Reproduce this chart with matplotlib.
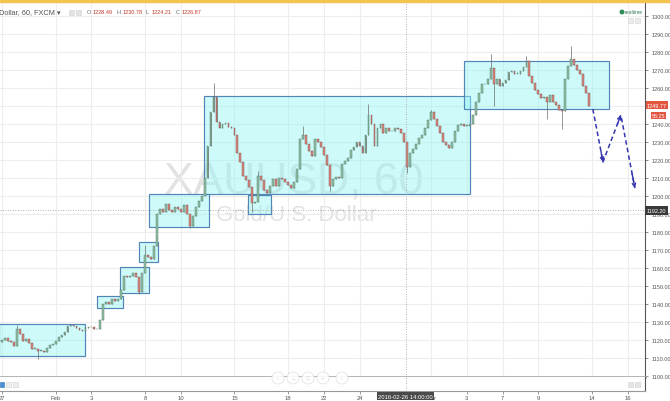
import numpy as np
import matplotlib.pyplot as plt
from matplotlib.patches import Rectangle, Ellipse
from matplotlib.transforms import blended_transform_factory

plt.rcParams['font.family'] = ['Liberation Sans', 'DejaVu Sans']

W, H = 670, 402

# 4-hour closes (6 bars per trading day, from Jan 27)
closes = [
    1120.0, 1121.0, 1119.5, 1119.0, 1116.5, 1126.0, 1123.3, 1119.5, 1120.5, 1118.5,
    1115.0, 1115.0, 1114.0, 1114.0, 1113.5, 1115.5, 1117.0, 1118.0, 1119.5, 1121.5,
    1122.6, 1124.4, 1127.8, 1128.5, 1127.5, 1126.5, 1125.5, 1125.2, 1126.5, 1127.0,
    1127.0, 1126.0, 1126.0, 1131.0, 1140.0, 1141.0, 1140.0, 1142.8, 1141.5, 1142.5,
    1148.0, 1155.6, 1155.0, 1155.5, 1157.0, 1155.0, 1146.7, 1157.0, 1167.0, 1166.0,
    1165.0, 1172.0, 1190.0, 1193.0, 1191.0, 1195.5, 1192.0, 1191.0, 1194.0, 1192.5,
    1191.0, 1195.0, 1190.0, 1183.5, 1189.0, 1194.0, 1197.0, 1200.0, 1210.0, 1228.0,
    1246.7, 1255.0, 1241.0, 1238.0, 1240.0, 1240.5, 1238.5, 1237.5, 1234.0, 1224.0,
    1219.0, 1211.0, 1209.0, 1205.0, 1196.0, 1196.7, 1211.0, 1209.0, 1203.5, 1201.5,
    1205.6, 1209.4, 1205.6, 1210.0, 1209.5, 1207.5, 1206.0, 1204.5, 1208.0, 1215.0,
    1231.7, 1234.0, 1229.0, 1225.0, 1222.0, 1231.7, 1230.0, 1227.0, 1223.0, 1217.0,
    1205.6, 1209.4, 1210.5, 1210.0, 1218.0, 1219.5, 1221.0, 1225.3, 1227.0, 1230.0,
    1228.0, 1224.0, 1234.0, 1245.0, 1240.0, 1228.0, 1238.0, 1240.0, 1235.0, 1238.0,
    1236.0, 1236.0, 1238.0, 1237.0, 1235.0, 1230.0, 1216.0, 1224.0, 1226.0, 1229.0,
    1232.0, 1234.0, 1237.5, 1242.0, 1246.5, 1243.0, 1239.0, 1235.0, 1230.0, 1228.5,
    1226.5, 1230.0, 1236.0, 1239.5, 1240.0, 1239.0, 1239.0, 1240.0, 1245.0, 1252.0,
    1257.5, 1262.0, 1262.0, 1265.0, 1271.0, 1262.0, 1265.0, 1261.0, 1263.0, 1264.5,
    1269.0, 1269.5, 1268.0, 1268.0, 1269.5, 1271.5, 1275.0, 1266.7, 1263.0, 1259.0,
    1256.5, 1254.5, 1255.0, 1252.0, 1256.0, 1252.0, 1250.5, 1248.0, 1247.5, 1265.0,
    1272.0, 1276.0, 1273.0, 1270.0, 1268.0, 1261.0, 1257.5, 1249.8,
]
first_open = 1119.0

# wick extremes that stick out of the bodies
spike_idx = [5, 48, 71, 86, 101, 123, 144, 164, 176, 191]
spike_hi = [1128.5, 1173.0, 1263.0, 1214.0, 1239.0, 1251.0, 1248.0, 1279.0, 1278.0, 1283.5]
dip_idx = [12, 46, 63, 84, 110, 136, 165, 183, 188]
dip_lo = [1109.5, 1145.5, 1182.0, 1191.0, 1202.8, 1213.0, 1250.0, 1243.0, 1237.0]

bars_per_day = 6
day_ticks = [0, 3, 5, 8, 10, 13, 16, 18, 20, 24, 26, 28, 30, 33, 35]
day_labels = ['27', 'Feb', '3', '8', '10', '15', '18', '22', '24', 'Mar', '3', '7', '9', '14', '16']

# drawn rectangles (bar index, price)
box_x0 = [-1.0, 31.9, 39.6, 46.0, 49.3, 67.8, 82.6, 155.0]
box_x1 = [27.9, 40.6, 49.3, 52.3, 69.5, 157.0, 90.3, 203.7]
box_lo = [1111.1, 1137.8, 1146.1, 1163.3, 1182.8, 1201.1, 1190.0, 1248.3]
box_hi = [1128.9, 1144.4, 1160.6, 1174.4, 1201.1, 1255.6, 1200.6, 1275.0]

# projected path
proj_x = [198.3, 201.7, 207.7, 212.4]
proj_y = [1248.3, 1218.9, 1245.0, 1204.4]

price_ticks = list(range(1100, 1301, 10))
last_price = 1249.77
cross_price = 1192.20
cross_day = 22 + 14 / 24
cross_label = '2016-02-26 14:00:00'
ohlc_names = ['O', 'H', 'L', 'C']
ohlc_vals = ['1228.49', '1230.78', '1224.21', '1226.87']


def fx(x):
    return x / W


def fy(y):
    return 1 - y / H


fig = plt.figure(figsize=(W / 100, H / 100), dpi=100)
fig.patch.set_facecolor('white')

ax = fig.add_axes([0, fy(378), 645 / W, 375 / H])
xlim = (-0.67, 215.8)
ax.set_xlim(*xlim)
ax.set_ylim(1099.44, 1307.78)

tick_x = [d * bars_per_day for d in day_ticks]
ax.set_xticks(tick_x)
ax.set_yticks(price_ticks)
ax.grid(color='#ededed', lw=0.8, zorder=0)
ax.set_axisbelow(True)
ax.yaxis.tick_right()
ax.tick_params(axis='x', length=0, labelbottom=False)
ax.tick_params(axis='y', length=2.5, width=0.6, color='#777', labelsize=4,
               labelcolor='#555', pad=2)
# the scale label under the last-price marker is hidden, as on the screen
ax.set_yticklabels(['' if abs(p - last_price) < 3 else '%.2f' % p for p in price_ticks])
for s in ['left', 'top']:
    ax.spines[s].set_visible(False)
ax.spines['right'].set_color('#555')
ax.spines['right'].set_linewidth(0.8)
ax.spines['bottom'].set_color('#b0b0b0')
ax.spines['bottom'].set_linewidth(2)

# watermark
ax.text(0.455, 0.493, 'XAUUSD, 60', transform=ax.transAxes, ha='center',
        va='baseline', fontsize=32, color='#e2e2e2', zorder=0.5)
ax.text(0.46, 0.418, 'Gold/U.S. Dollar', transform=ax.transAxes, ha='center',
        va='baseline', fontsize=16, color='#e2e2e2', zorder=0.5)

# boxes
for x0, x1, lo, hi in zip(box_x0, box_x1, box_lo, box_hi):
    ax.add_patch(Rectangle((x0, lo), x1 - x0, hi - lo, fc=(0.58, 0.96, 0.96, 0.45),
                           ec='#5085b8', lw=0.85, zorder=1))

# candles
c = np.array(closes)
o = np.concatenate([[first_open], c[:-1]])
idx = np.arange(len(c))
hi = np.maximum(o, c)
lo = np.minimum(o, c)
hi[spike_idx] = spike_hi
lo[dip_idx] = dip_lo
up = c >= o
ax.vlines(idx, lo, hi, color='#6d6d6d', lw=0.5, zorder=2)
body_lo = np.minimum(o, c)
body_h = np.maximum(np.abs(c - o), 0.3)
ax.bar(idx[up], body_h[up], bottom=body_lo[up], width=0.6, color='#8fc2a6',
       edgecolor='#4f6f5c', lw=0.3, zorder=3)
ax.bar(idx[~up], body_h[~up], bottom=body_lo[~up], width=0.6, color='#d98b80',
       edgecolor='#7a4a44', lw=0.3, zorder=3)

# crosshair
cross_x = cross_day * bars_per_day
ax.axvline(cross_x, color='#999', lw=0.6, ls=(0, (1, 2)), zorder=4)
ax.axhline(cross_price, color='#999', lw=0.6, ls=(0, (1, 2)), zorder=4)

# projection
ax.plot(proj_x, proj_y, color='#3535b0', lw=1.1, ls=(0, (3, 2)), zorder=5)
for k in range(1, len(proj_x)):
    sx = proj_x[k - 1] + 0.8 * (proj_x[k] - proj_x[k - 1])
    sy = proj_y[k - 1] + 0.8 * (proj_y[k] - proj_y[k - 1])
    ax.annotate('', xy=(proj_x[k], proj_y[k]), xytext=(sx, sy),
                arrowprops=dict(arrowstyle='->', color='#3535b0', lw=1.0,
                                shrinkA=0, shrinkB=0, mutation_scale=6), zorder=5)

# time axis strip
ax2 = fig.add_axes([0, fy(392), 645 / W, 14 / H])
ax2.set_xlim(*xlim)
ax2.set_ylim(0, 1)
ax2.set_yticks([])
ax2.set_xticks(tick_x)
ax2.set_xticklabels(day_labels)
ax2.tick_params(axis='x', length=2, width=0.6, color='#888', labelsize=4.2,
                labelcolor='#555', pad=1.2)
for s in ['left', 'top']:
    ax2.spines[s].set_visible(False)
ax2.spines['bottom'].set_color('#999')
ax2.spines['bottom'].set_linewidth(0.8)
ax2.spines['right'].set_color('#555')
ax2.spines['right'].set_linewidth(0.8)
ax2.axvline(cross_x, color='#999', lw=0.6, ls=(0, (1, 2)))
tr = blended_transform_factory(ax2.transData, ax2.transAxes)
ax2.text(cross_x, -0.36, cross_label, transform=tr, ha='center', va='center',
         fontsize=4.2, color='white', clip_on=False, zorder=6,
         bbox=dict(fc='#4a4a4a', ec='none', pad=1.0))

# price labels on the scale
fig.text(fx(647), fy(106), '%.2f' % last_price, fontsize=4, color='white', va='center',
         bbox=dict(fc='#e2553f', ec='none', pad=0.9))
fig.text(fx(652), fy(116.5), '56:25', fontsize=4, color='white', va='center',
         bbox=dict(fc='#e2553f', ec='none', pad=0.7))
fig.text(fx(647), fy(211.5), '%.2f' % cross_price, fontsize=4, color='white', va='center',
         bbox=dict(fc='#3a3a3a', ec='none', pad=1.2))

# top bar and header
fig.patches.append(Rectangle((0, fy(3)), 1, 3 / H, transform=fig.transFigure,
                             color='#f3c44f', zorder=10))
fig.text(fx(-1), fy(13), 'Dollar, 60, FXCM \u25be', fontsize=5.3, color='#555', va='center')
for k in range(2):
    fig.patches.append(Rectangle((fx(69 + k * 7), fy(16)), 5 / W, 5 / H,
                                 transform=fig.transFigure, fc='#e4e4e4', ec='#cfcfcf', lw=0.4))
x = 87
for name, val in zip(ohlc_names, ohlc_vals):
    fig.text(fx(x), fy(13), name, fontsize=4, color='#666', va='center')
    fig.text(fx(x + 6), fy(13), val, fontsize=4, color='#c0392b', va='center')
    x += 29.5

fig.patches.append(Ellipse((fx(622), fy(13)), 3.5 / W, 3.5 / H, transform=fig.transFigure,
                           color='#2e8b57'))
fig.text(fx(625), fy(13), 'realtime', fontsize=3.6, color='#3a7a5a', va='center')
for k in range(2):
    fig.patches.append(Rectangle((fx(628 + k * 7), fy(24)), 5 / W, 5 / H,
                                 transform=fig.transFigure, fc='#ececec', ec='#d5d5d5', lw=0.4))

# bottom controls
fig.patches.append(Rectangle((0, fy(388)), 4 / W, 5 / H, transform=fig.transFigure,
                             fc='#4a90d9', ec='#2d6fb5', lw=0.4))
for k in range(2):
    fig.patches.append(Rectangle((fx(6 + k * 7), fy(388)), 5 / W, 5 / H,
                                 transform=fig.transFigure, fc='#eeeeee', ec='#d0d0d0', lw=0.4))
    fig.patches.append(Rectangle((fx(628 + k * 7), fy(388)), 5 / W, 5 / H,
                                 transform=fig.transFigure, fc='#e6e6e6', ec='#d0d0d0', lw=0.4))
for cx, sym in zip([278, 293, 308, 323, 342], ['\u2039', '\u2212', 'C', '+', '\u203a']):
    fig.patches.append(Ellipse((fx(cx), fy(379)), 12 / W, 12 / H, transform=fig.transFigure,
                               fc='white', ec='#e0e0e0', lw=0.6, alpha=0.9, zorder=5))
    fig.text(fx(cx), fy(379), sym, fontsize=4.5, color='#cccccc', ha='center', va='center',
             zorder=6)

fig.savefig('out.png', dpi=100)
